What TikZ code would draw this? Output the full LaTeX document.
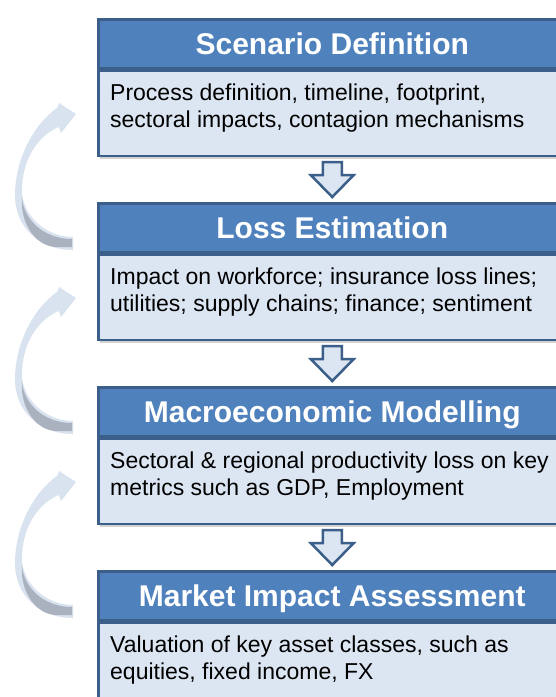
\documentclass[tikz,border=0pt]{standalone}
\usepackage{fontspec}
\setmainfont{Liberation Sans}
\usetikzlibrary{calc,shadows}

\definecolor{headblue}{HTML}{4F81BD}
\definecolor{boxline}{HTML}{3B5F8A}
\definecolor{bodyblue}{HTML}{DCE6F2}
\definecolor{loopblue}{HTML}{D9E3EF}
\definecolor{loopgray}{HTML}{A9B2BE}

% block arrow from one stage down to the next
\newcommand{\stagearrow}[2]{%
  \path[blockarrow] let \p1=(#1.south), \p2=(#2.north) in
    (\x1-9.5pt,\y1-5pt) -- (\x1+9.5pt,\y1-5pt) -- (\x1+9.5pt,\y2+27pt)
    -- (\x1+21.5pt,\y2+27pt) -- (\x1,\y2+5pt) -- (\x1-21.5pt,\y2+27pt)
    -- (\x1-9.5pt,\y2+27pt) -- cycle;}

\begin{document}
\begin{tikzpicture}[x=1pt,y=-1pt]
    \tikzstyle{stagehead}=[draw=boxline,line width=2.5pt,fill=headblue,text=white,anchor=north west,
        minimum width=468pt,minimum height=49pt,inner sep=0pt,text height=21.5pt,text depth=0pt,
        font=\fontsize{30}{36}\selectfont\bfseries]
    \tikzstyle{stagebody}=[draw=boxline,line width=2.5pt,fill=bodyblue,anchor=north west,
        minimum width=468pt,minimum height=85pt,inner sep=0pt,
        drop shadow={shadow xshift=1.5pt,shadow yshift=-3pt,opacity=.35}]
    \tikzstyle{stagetext}=[anchor=north west,align=left,inner sep=0pt,text=black,
        font=\fontsize{23}{26.7}\selectfont]
    \tikzstyle{blockarrow}=[draw=boxline,line width=2.5pt,fill=bodyblue,line join=miter]
    \tikzstyle{loopfront}=[fill=loopblue]
    \tikzstyle{loopback}=[fill=loopgray]

    \clip (0,0) rectangle (556,697);
    \fill[white] (0,0) rectangle (556,697);

    \node[stagehead] (h1) at (97,18) {Scenario Definition};
    \node[stagebody] (b1) at (h1.south west) {};
    \node[stagetext] (t1) at ([xshift=13pt,yshift=-14.5pt]b1.north west)
        {Process definition, timeline, footprint,\\sectoral impacts, contagion mechanisms};

    \node[stagehead] (h2) at (97,202) {Loss Estimation};
    \node[stagebody] (b2) at (h2.south west) {};
    \node[stagetext] (t2) at ([xshift=13pt,yshift=-14.5pt]b2.north west)
        {Impact on workforce; insurance loss lines;\\utilities; supply chains; finance; sentiment};

    \node[stagehead] (h3) at (97,386) {Macroeconomic Modelling};
    \node[stagebody] (b3) at (h3.south west) {};
    \node[stagetext] (t3) at ([xshift=13pt,yshift=-14.5pt]b3.north west)
        {Sectoral \& regional productivity loss on key\\metrics such as GDP, Employment};

    \node[stagehead] (h4) at (97,570) {Market Impact Assessment};
    \node[stagebody] (b4) at (h4.south west) {};
    \node[stagetext] (t4) at ([xshift=13pt,yshift=-14.5pt]b4.north west)
        {Valuation of key asset classes, such as\\equities, fixed income, FX};

    \stagearrow{b1}{h2}
    \stagearrow{b2}{h3}
    \stagearrow{b3}{h4}

    \foreach \dy in {0,184,368} {
        \begin{scope}[shift={(0,\dy)}]
            \fill[loopfront] (73,250) .. controls (40,250) and (15,228) .. (15,195)
                .. controls (15,160) and (33,125) .. (57,108) -- (59,103) -- (76,114)
                -- (61,133) -- (59,127) .. controls (38,135) and (22,160) .. (22,190)
                .. controls (22,215) and (45,237) .. (73,237) -- cycle;
            \fill[loopback] (22,198) .. controls (20,222) and (35,247) .. (57,247) -- (72,247)
                -- (72,239) .. controls (44,239) and (24,220) .. (22,198) -- cycle;
        \end{scope}
    }
\end{tikzpicture}
\end{document}
